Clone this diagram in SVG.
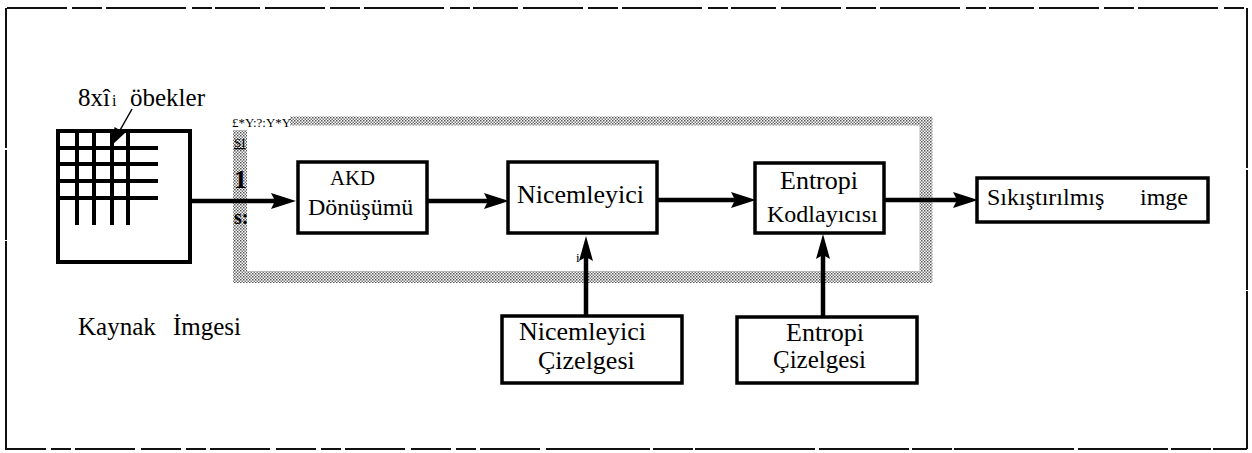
<svg xmlns="http://www.w3.org/2000/svg" width="1252" height="453" viewBox="0 0 1252 453">
  <defs>
    <!-- dotted halftone fill used by the feedback loop band -->
    <pattern id="halftone" width="3" height="3" patternUnits="userSpaceOnUse">
      <rect width="3" height="3" fill="#ffffff"/>
      <rect width="1.5" height="1.5" fill="#555555"/>
      <rect x="1.5" y="1.5" width="1.5" height="1.5" fill="#777777"/>
    </pattern>
    <marker id="head" viewBox="0 0 25 16" refX="14" refY="8" markerWidth="25" markerHeight="16" markerUnits="userSpaceOnUse" orient="auto">
      <path d="M0,0 L25,8 L0,16 L4,8 z" fill="#000"/>
    </marker>
    <marker id="headv" viewBox="0 0 25 14" refX="14" refY="7" markerWidth="25" markerHeight="14" markerUnits="userSpaceOnUse" orient="auto">
      <path d="M0,0 L25,7 L0,14 L4,7 z" fill="#000"/>
    </marker>
  </defs>
  <style>
    .box { fill: #fff; stroke: #000; stroke-width: 3.5; }
    .grid { stroke: #000; stroke-width: 4; fill: none; }
    .conn { stroke: #000; stroke-width: 4.5; fill: none; marker-end: url(#head); }
    .connv { stroke: #000; stroke-width: 4.5; fill: none; marker-end: url(#headv); }
    .band { fill: none; stroke: url(#halftone); }
    text { font-family: 'Liberation Serif', 'DejaVu Serif', serif; fill: #000; }
    .frame { stroke: #111; stroke-width: 2; fill: none; }
  </style>

  <rect width="1252" height="453" fill="#fff"/>

  <!-- page frame -->
  <g id="frame">
    <path class="frame" d="M7,8 H1247" stroke-dasharray="60 5 30 4 80 6 20 3 45 5"/>
    <path class="frame" d="M6,8 V450" stroke-dasharray="140 2 90 1 210 3"/>
    <path class="frame" d="M1247,8 V449" stroke-dasharray="160 2 120 1 200 3"/>
    <path class="frame" d="M6,449 H560" stroke="#aaa" stroke-dasharray="40 5 20 4 60 6"/>
    <path class="frame" d="M560,449 H1247" stroke-dasharray="90 3 40 2 120 4"/>
  </g>

  <!-- halftone feedback loop band -->
  <g id="loop-band">
    <path class="band" d="M290,121 H932" stroke-width="9"/>
    <path class="band" d="M926,117 V283" stroke-width="13"/>
    <path class="band" d="M233,277 H932" stroke-width="12"/>
    <path class="band" d="M240,130 V283" stroke-width="14"/>
    <text x="232" y="127" font-size="13" textLength="59" lengthAdjust="spacingAndGlyphs">£*Y:?:Y*Y</text>
    <text x="234" y="147" font-size="13" text-decoration="underline">SI</text>
    <text x="234" y="188" font-size="26" font-weight="bold">1</text>
    <text x="234" y="224" font-size="20" font-weight="bold">s:</text>
  </g>

  <!-- source image: 8x8 block grid -->
  <g id="kaynak-imgesi">
    <rect class="grid" x="58" y="131" width="132" height="131"/>
    <path class="grid" d="M58,148 H158 M58,164 H158 M58,181 H158 M58,198 H158"/>
    <path class="grid" d="M77,131 V225 M94,131 V225 M112,131 V225 M128,131 V225"/>
    <path d="M132,109 L119,132" stroke="#000" stroke-width="1.5" fill="none"/>
    <polygon points="112,145 114.5,127 125,133" fill="#000"/>
    <text x="78" y="106" font-size="25">8xî<tspan font-size="16" dx="2">i</tspan></text>
    <text x="130" y="106" font-size="25">öbekler</text>
    <text x="78" y="335" font-size="25">Kaynak</text>
    <text x="173" y="335" font-size="25">İmgesi</text>
  </g>

  <!-- processing blocks -->
  <g id="akd">
    <rect class="box" x="298" y="162" width="129" height="71"/>
    <text x="330" y="185" font-size="21" textLength="45" lengthAdjust="spacingAndGlyphs">AKD</text>
    <text x="308" y="215" font-size="24">Dönüşümü</text>
  </g>

  <g id="nicemleyici">
    <rect class="box" x="508" y="162" width="149" height="71"/>
    <text x="517" y="203" font-size="26">Nicemleyici</text>
  </g>

  <g id="entropi-kodlayici">
    <rect class="box" x="755" y="163" width="129" height="70"/>
    <text x="780" y="189" font-size="26">Entropi</text>
    <text x="767" y="222" font-size="24">Kodlayıcısı</text>
  </g>

  <g id="sikistirilmis-imge">
    <rect class="box" x="977" y="178" width="231" height="44"/>
    <text x="987" y="205" font-size="24">Sıkıştırılmış</text>
    <text x="1140" y="205" font-size="24">imge</text>
  </g>

  <g id="nicemleyici-cizelgesi">
    <rect class="box" x="502" y="316" width="180" height="67"/>
    <text x="519" y="340" font-size="26">Nicemleyici</text>
    <text x="538" y="369" font-size="26">Çizelgesi</text>
  </g>

  <g id="entropi-cizelgesi">
    <rect class="box" x="737" y="317" width="180" height="66"/>
    <text x="786" y="341" font-size="26">Entropi</text>
    <text x="773" y="368" font-size="25">Çizelgesi</text>
  </g>

  <!-- connectors -->
  <g id="connectors">
    <path class="conn" d="M190,201 H285"/>
    <path class="conn" d="M427,201 H498"/>
    <path class="conn" d="M657,200 H745"/>
    <path class="conn" d="M884,200 H967"/>
    <path class="connv" d="M586,316 V247"/>
    <path class="connv" d="M823,317 V245"/>
    <text x="576" y="262" font-size="13">i</text>
  </g>
</svg>
